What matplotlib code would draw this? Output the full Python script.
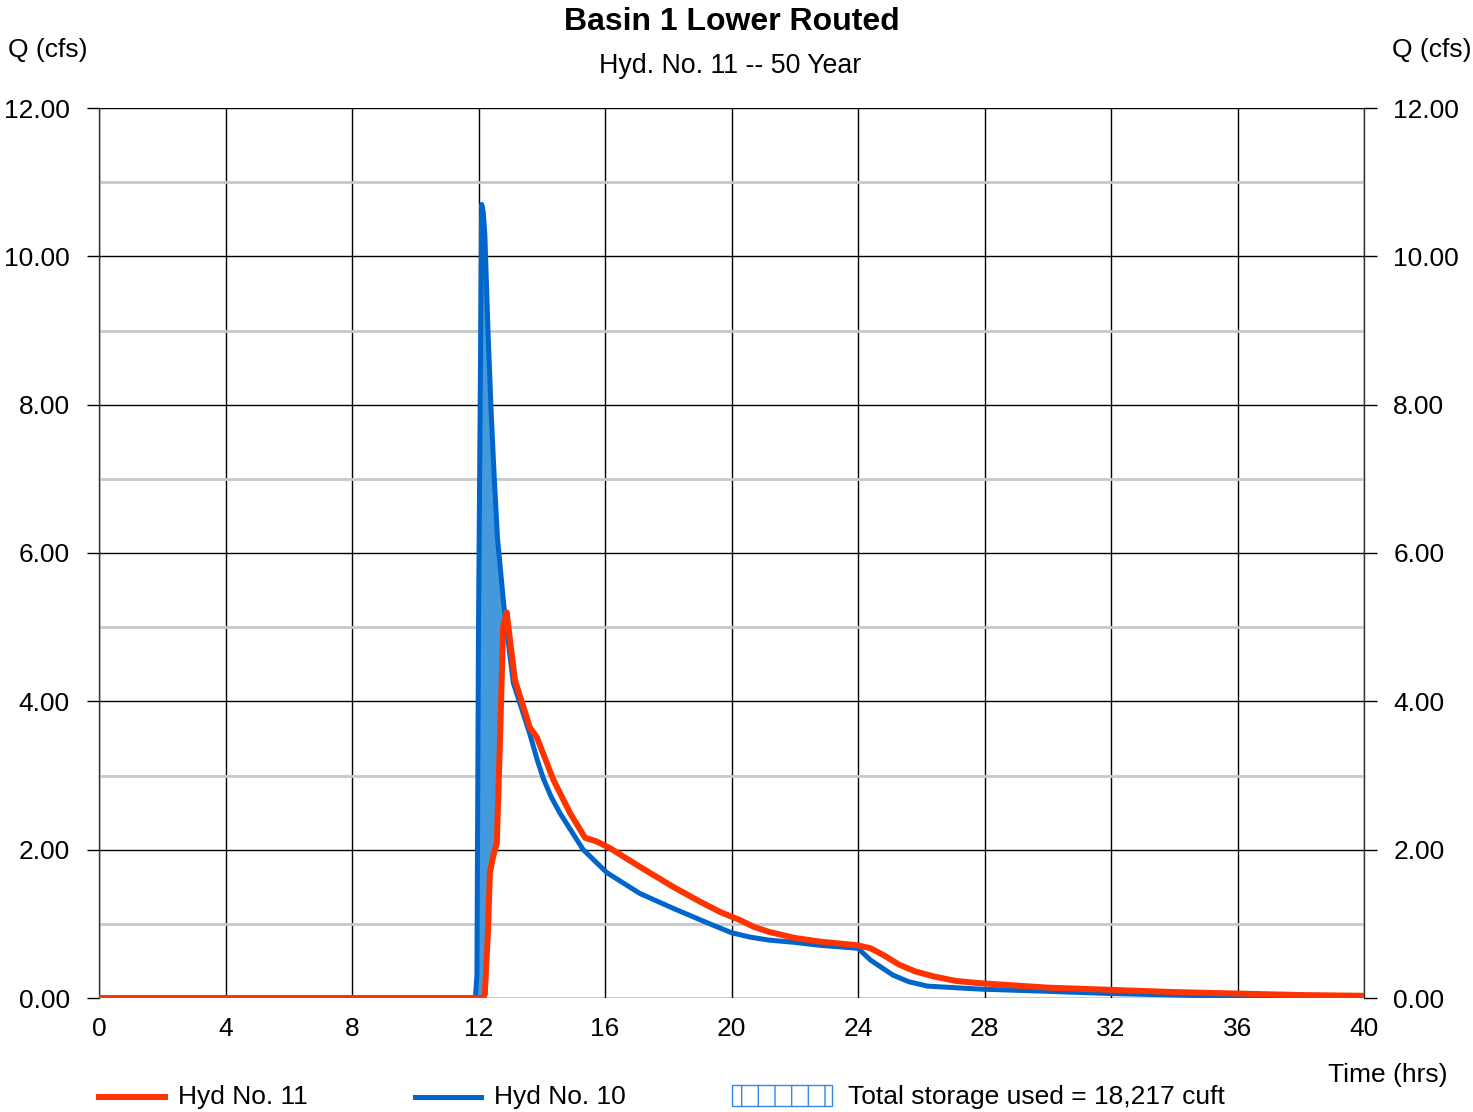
import numpy as np
import matplotlib
matplotlib.use("Agg")
import matplotlib.pyplot as plt
from matplotlib.lines import Line2D
from matplotlib.patches import Rectangle

plt.rcParams["font.family"] = ["Liberation Sans", "DejaVu Sans"]

# Hyd No. 10 (inflow)
t_in = [0, 11.9, 11.95, 12.0, 12.1, 12.15, 12.2, 12.3, 12.4, 12.5, 12.6, 12.8, 13.1, 13.35, 13.63,
        13.85, 14.05, 14.3, 14.58, 15.31, 16.06, 17.1, 18.15, 19.2, 20.0, 20.6, 21.2, 22.0, 22.8,
        24.0, 24.4, 25.1, 25.6, 26.2, 27.85, 30.0, 32.0, 34.0, 36.0, 38.0, 40.0]
q_in = [0, 0, 0.3, 5.0, 10.7, 10.6, 10.3, 9.0, 7.9, 7.0, 6.2, 5.3, 4.25, 3.92, 3.55,
        3.22, 2.96, 2.71, 2.49, 2.0, 1.69, 1.41, 1.21, 1.02, 0.88, 0.82, 0.78, 0.75, 0.71,
        0.67, 0.51, 0.31, 0.22, 0.16, 0.12, 0.09, 0.06, 0.04, 0.02, 0.01, 0.0]

# Hyd No. 11 (routed outflow)
t_out = [0, 12.15, 12.2, 12.3, 12.36, 12.46, 12.58, 12.68, 12.78, 12.89, 13.15, 13.63,
         13.84, 14.37, 14.9, 15.37, 15.74, 16.16, 17.1, 18.15, 19.0, 19.64, 20.27, 20.7, 21.2,
         22.0, 22.8, 24.0, 24.4, 24.8, 25.3, 25.8, 26.4, 27.1, 27.85, 30.0, 32.0, 34.0, 36.0,
         38.0, 40.0]
q_out = [0, 0, 0.05, 0.9, 1.69, 1.9, 2.09, 3.48, 5.0, 5.2, 4.29, 3.64,
         3.52, 2.94, 2.49, 2.16, 2.11, 2.02, 1.77, 1.5, 1.3, 1.16, 1.05, 0.96, 0.89,
         0.81, 0.76, 0.71, 0.67, 0.58, 0.45, 0.36, 0.29, 0.23, 0.2, 0.14, 0.11, 0.08, 0.06,
         0.04, 0.03]

storage_label = "Total storage used = 18,217 cuft"

red = "#ff3300"
blue = "#0066cc"

fig = plt.figure(figsize=(14.73, 11.12), dpi=100)
ax = fig.add_axes([99/1473, 1-998/1112, (1364-99)/1473, (998-108)/1112])

t_in = np.array(t_in); q_in = np.array(q_in)
t_out = np.array(t_out); q_out = np.array(q_out)

# storage area between inflow and outflow
mi = (t_in >= 11.9) & (t_in <= 12.8)
mo = (t_out >= 12.15) & (t_out <= 12.89)
ax.fill(np.r_[t_in[mi], t_out[mo][::-1]], np.r_[q_in[mi], q_out[mo][::-1]],
        color="#4499dd", lw=0, zorder=2)

ax.plot(t_in, q_in, color=blue, lw=3.6, zorder=3, solid_joinstyle="round")
ax.plot(t_out, q_out, color=red, lw=4.3, zorder=4, solid_joinstyle="round", solid_capstyle="round")

ax.set_xlim(0, 40)
ax.set_ylim(0, 12)
ax.set_xticks(range(0, 41, 4))
ax.set_yticks(np.arange(0, 12.1, 2))
ax.set_yticks(np.arange(1, 12, 2), minor=True)
ax.set_yticklabels(["%.2f" % v for v in np.arange(0, 12.1, 2)])
ax.grid(True, which="major", color="black", lw=1.0, zorder=1)
ax.grid(True, which="minor", axis="y", color="#c8c8c8", lw=2.0, zorder=1)
ax.set_axisbelow(True)
for s in ax.spines.values():
    s.set_color("#333333")
    s.set_linewidth(1.0)
ax.spines["bottom"].set_visible(False)
ax.spines["top"].set_visible(False)

ax.tick_params(axis="x", length=0, pad=14, labelsize=19)
ax.tick_params(axis="y", which="major", length=9, width=1.0, direction="out",
               pad=12, labelsize=19, right=True, labelright=True)
ax.tick_params(axis="y", which="minor", length=0, right=False)

fig.text(732/1473, 1-22/1112, "Basin 1 Lower Routed", ha="center", va="center",
         fontsize=23, fontweight="bold")
fig.text(730/1473, 1-66/1112, "Hyd. No. 11 -- 50 Year", ha="center", va="center", fontsize=19.3)
fig.text(8/1473, 1-50/1112, "Q (cfs)", ha="left", va="center", fontsize=19)
fig.text(1472/1473, 1-50/1112, "Q (cfs)", ha="right", va="center", fontsize=19)
fig.text(1448/1473, 1-1075/1112, "Time (hrs)", ha="right", va="center", fontsize=19)

# legend row
ly = 1-1097/1112
fig.add_artist(Line2D([99/1473, 165/1473], [ly, ly], color=red, lw=4.3))
fig.text(178/1473, ly, "Hyd No. 11", ha="left", va="center", fontsize=19)
fig.add_artist(Line2D([415/1473, 481/1473], [ly, ly], color=blue, lw=3.6))
fig.text(494/1473, ly, "Hyd No. 10", ha="left", va="center", fontsize=19)
fig.add_artist(Rectangle((732/1473, 1-1106/1112), 100/1473, 21/1112, transform=fig.transFigure,
                         facecolor="white", edgecolor="#3388dd", hatch="|", lw=1.0))
fig.text(848/1473, ly, storage_label, ha="left", va="center", fontsize=19)

fig.savefig("out.png", dpi=100)
